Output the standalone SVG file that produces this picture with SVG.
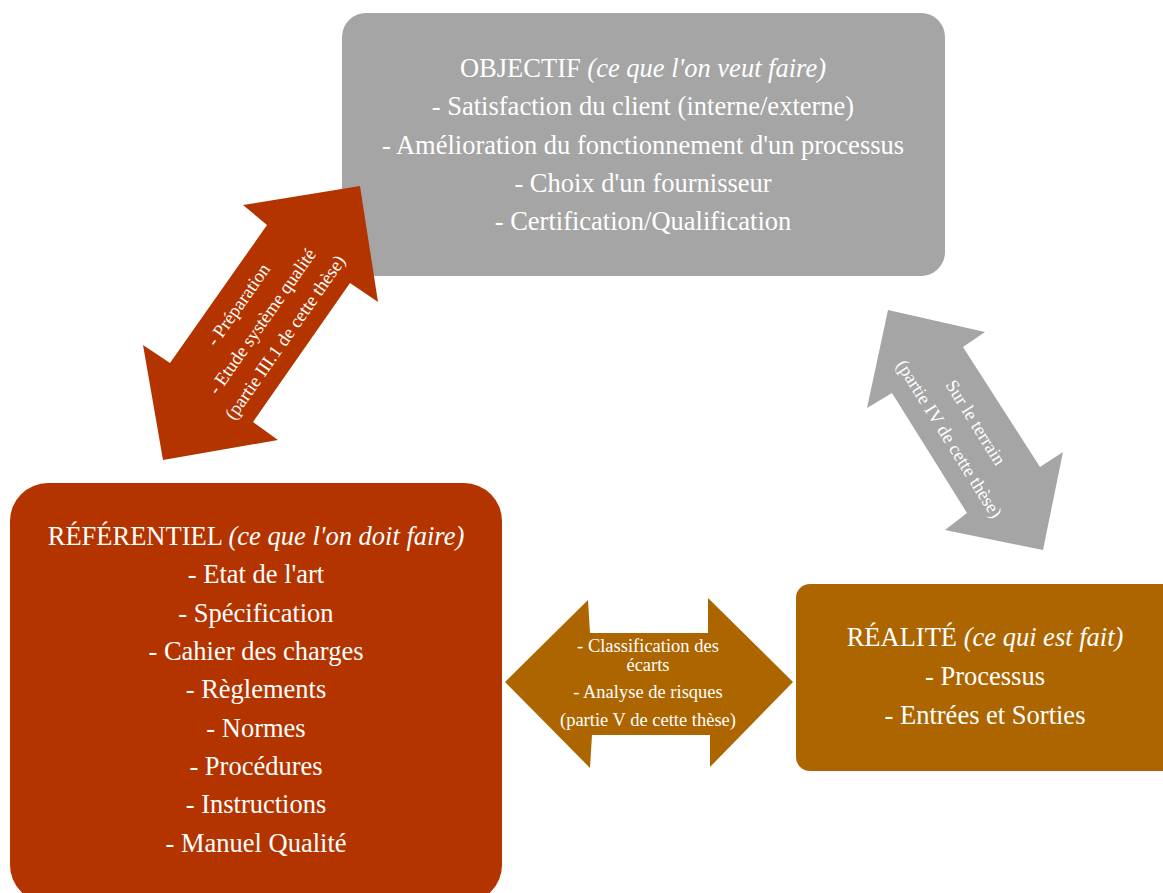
<svg xmlns="http://www.w3.org/2000/svg" width="1163" height="893" viewBox="0 0 1163 893">
<style>
.t{font-family:"Liberation Serif","Times New Roman",serif;fill:#ffffff;text-anchor:middle}
.big{font-size:26.5px}
.sm{font-size:18.5px}
.i{font-style:italic}
</style>
<rect width="1163" height="893" fill="#ffffff"/>
<g id="objectif">
<rect x="342" y="13" width="603" height="263" rx="24" fill="#a5a5a5"/>
<text class="t big" x="643" y="77">OBJECTIF <tspan class="i">(ce que l'on veut faire)</tspan></text>
<text class="t big" x="643" y="115">- Satisfaction du client (interne/externe)</text>
<text class="t big" x="643" y="154">- Amélioration du fonctionnement d'un processus</text>
<text class="t big" x="643" y="192">- Choix d'un fournisseur</text>
<text class="t big" x="643" y="230">- Certification/Qualification</text>
</g>
<g id="referentiel">
<rect x="10" y="483" width="492" height="420" rx="38" fill="#b43400"/>
<text class="t big" x="256" y="545">RÉFÉRENTIEL <tspan class="i">(ce que l'on doit faire)</tspan></text>
<text class="t big" x="256" y="583">- Etat de l'art</text>
<text class="t big" x="256" y="622">- Spécification</text>
<text class="t big" x="256" y="660">- Cahier des charges</text>
<text class="t big" x="256" y="698">- Règlements</text>
<text class="t big" x="256" y="737">- Normes</text>
<text class="t big" x="256" y="775">- Procédures</text>
<text class="t big" x="256" y="813">- Instructions</text>
<text class="t big" x="256" y="852">- Manuel Qualité</text>
</g>
<g id="realite">
<rect x="796" y="584" width="390" height="187" rx="14" fill="#ad6500"/>
<text class="t big" x="985" y="646">RÉALITÉ <tspan class="i">(ce qui est fait)</tspan></text>
<text class="t big" x="985" y="685">- Processus</text>
<text class="t big" x="985" y="724">- Entrées et Sorties</text>
</g>
<g id="connectors">
<g id="arrow-preparation">
<polygon points="360,186 378,302 350,283 253,422 278,440 163,460 143,345 170,363 267,225 243,205" fill="#b43400"/>
<g transform="translate(263,322) rotate(-55)">
<text class="t sm" x="0" y="-24">- Préparation</text>
<text class="t sm" x="0" y="5">- Etude système qualité</text>
<text class="t sm" x="0" y="33">(partie III.1 de cette thèse)</text>
</g>
</g>
<g id="arrow-terrain">
<polygon points="888,310 985,332 963,347 1040,467 1063,452 1043,550 945,530 967,513 892,393 867,408" fill="#a5a5a5"/>
<g transform="translate(962,431) rotate(58)">
<text class="t sm" x="0" y="-10">Sur le terrain</text>
<text class="t sm" x="0" y="21">(partie IV  de cette thèse)</text>
</g>
</g>
<g id="arrow-ecarts">
<polygon points="505,682 588,600 590,633 708,633 708,598 793,682 710,767 710,735 592,735 590,768" fill="#ad6500"/>
<text class="t sm" x="648" y="652">-  Classification des</text>
<text class="t sm" x="648" y="671">écarts</text>
<text class="t sm" x="648" y="698">- Analyse de risques</text>
<text class="t sm" x="648" y="726">(partie V de cette thèse)</text>
</g>
</g>
</svg>
